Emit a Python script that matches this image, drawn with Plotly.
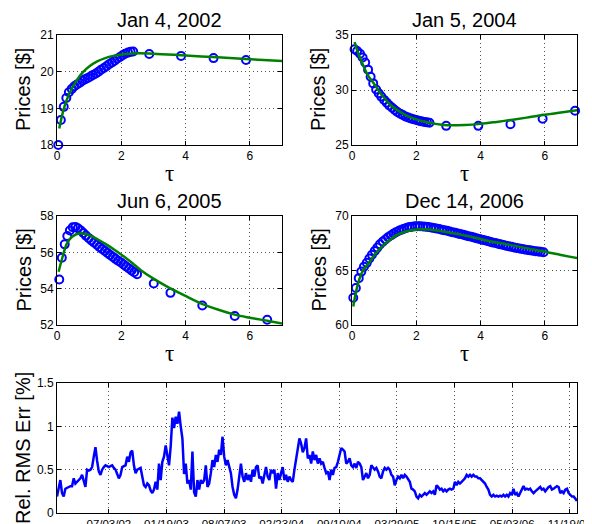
import plotly.graph_objects as go
import pandas as pd

FONT = "Liberation Sans, Arial, Helvetica, sans-serif"
SERIF = "Liberation Serif, Times New Roman, serif"

# ---------------- Data ----------------
titles = ["Jan 4, 2002", "Jan 5, 2004", "Jun 6, 2005", "Dec 14, 2006"]

# Panel 1 (Jan 4, 2002)
p1_tau = [0.04, 0.12, 0.21, 0.29, 0.37, 0.46, 0.54, 0.62, 0.71, 0.79, 0.87, 0.96, 1.04, 1.12, 1.21,
          1.29, 1.37, 1.46, 1.54, 1.62, 1.71, 1.79, 1.87, 1.96, 2.04, 2.12, 2.21, 2.29, 2.37,
          2.87, 3.86, 4.87, 5.88]
p1_obs = [18.0, 18.68, 19.04, 19.28, 19.44, 19.53, 19.6, 19.65, 19.7, 19.75, 19.79, 19.83, 19.87, 19.91, 19.95,
          20.0, 20.05, 20.1, 20.15, 20.2, 20.25, 20.3, 20.35, 20.4, 20.45, 20.49, 20.52, 20.54, 20.55,
          20.48, 20.43, 20.37, 20.32]
p1_fit_tau = [0.07, 0.2, 0.3, 0.45, 0.6, 0.8, 1.0, 1.25, 1.5, 1.75, 2.0, 2.25, 2.5, 3, 4, 5, 6, 7]
p1_fit = [18.45, 18.95, 19.22, 19.52, 19.75, 19.98, 20.14, 20.28, 20.37, 20.43, 20.47, 20.49, 20.5,
          20.49, 20.44, 20.39, 20.34, 20.29]

# Panel 2 (Jan 5, 2004)
p2_tau = [0.08, 0.16, 0.25, 0.33, 0.41, 0.5, 0.58, 0.66, 0.75, 0.83, 0.91, 1.0, 1.08, 1.16, 1.25, 1.33,
          1.41, 1.5, 1.58, 1.66, 1.75, 1.83, 1.91, 2.0, 2.08, 2.16, 2.25, 2.33, 2.41,
          2.93, 3.93, 4.93, 5.93, 6.94]
p2_obs = [33.7, 33.55, 33.3, 32.95, 32.5, 31.85, 31.2, 30.6, 30.05, 29.7, 29.4, 29.1, 28.85, 28.6, 28.38, 28.18,
          28.0, 27.85, 27.72, 27.6, 27.5, 27.42, 27.34, 27.27, 27.2, 27.15, 27.1, 27.06, 27.03,
          26.74, 26.74, 26.89, 27.38, 28.11]
p2_fit_tau = [0.08, 0.2, 0.36, 0.5, 0.67, 0.85, 1.0, 1.19, 1.45, 1.71, 2.0, 2.23, 2.6, 2.95, 3.5, 4.0,
              4.5, 5.0, 5.5, 6.0, 6.5, 7.0]
p2_fit = [34.36, 33.3, 32.16, 31.3, 30.64, 29.85, 29.3, 28.66, 28.1, 27.65, 27.33, 27.13, 26.92, 26.8,
          26.82, 26.92, 27.1, 27.3, 27.52, 27.75, 27.95, 28.15]

# Panel 3 (Jun 6, 2005)
p3_tau = [0.07, 0.15, 0.24, 0.32, 0.40, 0.49, 0.57, 0.65, 0.74, 0.82, 0.90, 0.99, 1.07, 1.15, 1.24, 1.32,
          1.40, 1.49, 1.57, 1.65, 1.74, 1.82, 1.90, 1.99, 2.07, 2.15, 2.24, 2.32, 2.40, 2.49,
          3.01, 3.53, 4.52, 5.53, 6.54]
p3_obs = [54.5, 55.7, 56.44, 56.9, 57.2, 57.38, 57.4, 57.33, 57.2, 57.06, 56.92, 56.78, 56.66, 56.54, 56.42, 56.3,
          56.19, 56.08, 55.97, 55.86, 55.75, 55.64, 55.54, 55.44, 55.33, 55.22, 55.11, 55.0, 54.9, 54.8,
          54.28, 53.77, 53.07, 52.5, 52.29]
p3_fit_tau = [0.05, 0.16, 0.31, 0.47, 0.73, 1.04, 1.3, 1.57, 1.83, 2.09, 2.35, 2.61, 3.0, 3.44, 4.0,
              4.49, 5.0, 5.53, 6.0, 6.58, 7.0]
p3_fit = [54.93, 55.66, 56.49, 56.86, 57.05, 56.92, 56.68, 56.4, 56.09, 55.76, 55.4, 55.02, 54.55, 54.1,
          53.6, 53.18, 52.85, 52.57, 52.4, 52.22, 52.08]

# Panel 4 (Dec 14, 2006)
p4_tau = [0.04, 0.12, 0.21, 0.29, 0.37, 0.46, 0.54, 0.62, 0.71, 0.79, 0.87, 0.96, 1.04, 1.12, 1.21, 1.29,
          1.37, 1.46, 1.54, 1.62, 1.71, 1.79, 1.87, 1.96, 2.04, 2.12, 2.21, 2.29, 2.37, 2.46, 2.54, 2.62,
          2.71, 2.79, 2.87, 2.96, 3.04, 3.12, 3.21, 3.29, 3.37, 3.46, 3.54, 3.62, 3.71, 3.79, 3.87, 3.96,
          4.04, 4.12, 4.21, 4.29, 4.37, 4.46, 4.54, 4.62, 4.71, 4.79, 4.87, 4.96, 5.04, 5.12, 5.21, 5.29,
          5.37, 5.46, 5.54, 5.62, 5.71, 5.79, 5.87, 5.96]
p4_obs = [62.5, 63.4, 64.3, 64.9, 65.35, 65.7, 66.1, 66.45, 66.8, 67.1, 67.4, 67.65, 67.85, 68.05, 68.22, 68.38,
          68.52, 68.64, 68.75, 68.84, 68.92, 68.98, 69.02, 69.05, 69.06, 69.06, 69.04, 69.02, 68.99, 68.95,
          68.91, 68.86, 68.81, 68.75, 68.7, 68.64, 68.58, 68.52, 68.46, 68.4, 68.34, 68.28, 68.22, 68.15,
          68.09, 68.02, 67.96, 67.9, 67.83, 67.77, 67.7, 67.64, 67.58, 67.52, 67.46, 67.4, 67.34, 67.28,
          67.22, 67.17, 67.12, 67.07, 67.02, 66.97, 66.93, 66.89, 66.85, 66.81, 66.77, 66.74, 66.71, 66.68]
p4_fit_tau = [0.04, 0.15, 0.3, 0.56, 0.75, 0.97, 1.2, 1.39, 1.7, 2.01, 2.42, 2.8, 3.25, 3.8, 4.29, 4.8,
              5.33, 6.05, 6.5, 7.0]
p4_fit = [61.7, 63.36, 64.75, 65.83, 66.6, 67.31, 67.85, 68.24, 68.6, 68.77, 68.77, 68.6, 68.36, 68.03,
          67.69, 67.42, 67.1, 66.7, 66.42, 66.14]

# Relative RMS error [%], 2002-01-04 .. 2006-12-14
rms_start, rms_end = "2002-01-04", "2006-12-14"
rms_err = [
    0.19, 0.30, 0.38, 0.23, 0.19, 0.28, 0.29, 0.30, 0.31, 0.31, 0.40, 0.34, 0.36, 0.38, 0.40, 0.44, 0.38, 0.30,
    0.50, 0.49, 0.50, 0.53, 0.65, 0.76, 0.60, 0.48, 0.44, 0.50, 0.53, 0.55, 0.54, 0.53, 0.54, 0.55, 0.52, 0.50,
    0.45, 0.40, 0.44, 0.53, 0.54, 0.55, 0.65, 0.59, 0.70, 0.72, 0.55, 0.46, 0.50, 0.51, 0.52, 0.42, 0.32, 0.30,
    0.34, 0.32, 0.26, 0.23, 0.27, 0.36, 0.27, 0.57, 0.38, 0.59, 0.65, 0.78, 0.65, 0.55, 0.77, 1.10, 0.98, 1.11,
    1.03, 1.17, 1.00, 0.86, 0.45, 0.57, 0.34, 0.38, 0.27, 0.71, 0.24, 0.19, 0.38, 0.27, 0.38, 0.34, 0.38, 0.55,
    0.30, 0.34, 0.46, 0.61, 0.53, 0.67, 0.59, 0.73, 0.67, 0.88, 0.65, 0.55, 0.61, 0.53, 0.46, 0.30, 0.21, 0.17,
    0.27, 0.42, 0.57, 0.42, 0.36, 0.46, 0.38, 0.44, 0.36, 0.50, 0.42, 0.53, 0.55, 0.40, 0.42, 0.34, 0.46, 0.53,
    0.42, 0.38, 0.50, 0.46, 0.50, 0.28, 0.46, 0.38, 0.46, 0.53, 0.38, 0.44, 0.36, 0.42, 0.38, 0.36, 0.50, 0.63,
    0.77, 0.86, 0.80, 0.70, 0.75, 0.86, 0.63, 0.67, 0.57, 0.71, 0.61, 0.67, 0.57, 0.63, 0.57, 0.59, 0.52, 0.46,
    0.48, 0.38, 0.50, 0.44, 0.52, 0.53, 0.59, 0.67, 0.75, 0.73, 0.71, 0.57, 0.59, 0.63, 0.55, 0.53, 0.57, 0.52,
    0.59, 0.57, 0.53, 0.38, 0.42, 0.46, 0.40, 0.44, 0.55, 0.52, 0.50, 0.52, 0.48, 0.42, 0.40, 0.48, 0.52, 0.50,
    0.52, 0.50, 0.44, 0.42, 0.32, 0.38, 0.42, 0.40, 0.44, 0.40, 0.44, 0.42, 0.38, 0.36, 0.28, 0.27, 0.25, 0.19,
    0.17, 0.21, 0.19, 0.21, 0.23, 0.21, 0.23, 0.25, 0.23, 0.25, 0.21, 0.32, 0.30, 0.27, 0.28, 0.25, 0.27, 0.25,
    0.27, 0.28, 0.27, 0.28, 0.36, 0.32, 0.36, 0.34, 0.36, 0.38, 0.40, 0.44, 0.42, 0.44, 0.42, 0.44, 0.42, 0.42,
    0.40, 0.40, 0.38, 0.36, 0.34, 0.30, 0.27, 0.21, 0.19, 0.21, 0.19, 0.20, 0.19, 0.20, 0.19, 0.21, 0.19, 0.21,
    0.19, 0.23, 0.21, 0.28, 0.21, 0.23, 0.19, 0.23, 0.27, 0.31, 0.27, 0.28, 0.27, 0.28, 0.25, 0.23, 0.25, 0.27,
    0.28, 0.30, 0.27, 0.28, 0.25, 0.28, 0.30, 0.31, 0.27, 0.28, 0.30, 0.31, 0.30, 0.23, 0.25, 0.23, 0.27, 0.28,
    0.23, 0.21, 0.19, 0.19, 0.17, 0.14,
]
date_ticks = ["2002-07-03", "2003-01-19", "2003-08-07", "2004-02-23", "2004-09-10",
              "2005-03-29", "2005-10-15", "2006-05-03", "2006-11-19"]
date_labels = ["07/03/02", "01/19/03", "08/07/03", "02/23/04", "09/10/04",
               "03/29/05", "10/15/05", "05/03/06", "11/19/06"]

y_ranges = [[18, 21], [25, 35], [52, 58], [60, 70]]
y_ticks = [[18, 19, 20, 21], [25, 30, 35], [52, 54, 56, 58], [60, 65, 70]]

# ---------------- Figure ----------------
W, H = 592, 524
OFF = 8  # page body margin


def px_x(p):
    return (p - OFF) / W


def px_y(p):
    return 1 - (p - OFF) / H


col_x = [(57, 282), (352, 577)]
row_y = [(35, 145), (216, 325)]

fig = go.Figure()
panels = [(p1_tau, p1_obs, p1_fit_tau, p1_fit), (p2_tau, p2_obs, p2_fit_tau, p2_fit),
          (p3_tau, p3_obs, p3_fit_tau, p3_fit), (p4_tau, p4_obs, p4_fit_tau, p4_fit)]

axis_common = dict(showline=True, linecolor="black", linewidth=1, mirror="ticks",
                   ticks="inside", ticklen=4, tickcolor="black",
                   showgrid=True, gridcolor="#555555", griddash="1px,3px", gridwidth=1,
                   zeroline=False, automargin=False,
                   tickfont=dict(family=FONT, size=12, color="black"))

layout = dict(width=W, height=H, margin=dict(l=0, r=0, t=0, b=0),
              paper_bgcolor="white", plot_bgcolor="white", showlegend=False)
annotations = []

for i, (tt, obs, ft, fv) in enumerate(panels):
    n = i + 1
    r, c = divmod(i, 2)
    xs = "x" if n == 1 else f"x{n}"
    ys = "y" if n == 1 else f"y{n}"
    fig.add_trace(go.Scatter(x=tt, y=obs, mode="markers", cliponaxis=False,
                             marker=dict(symbol="circle-open", size=8, color="rgb(0,0,255)",
                                         line=dict(width=2, color="rgb(0,0,255)")),
                             xaxis=xs, yaxis=ys))
    fig.add_trace(go.Scatter(x=ft, y=fv, mode="lines", line=dict(color="rgb(0,128,0)", width=2.5, shape="spline"),
                             xaxis=xs, yaxis=ys))
    x0, x1 = col_x[c]
    y0, y1 = row_y[r]
    layout["xaxis" if n == 1 else f"xaxis{n}"] = dict(axis_common, domain=[px_x(x0), px_x(x1)],
                                                       anchor=ys, range=[0, 7], tickvals=[0, 2, 4, 6])
    layout["yaxis" if n == 1 else f"yaxis{n}"] = dict(axis_common, domain=[px_y(y1), px_y(y0)],
                                                       anchor=xs, range=y_ranges[i], tickvals=y_ticks[i])
    cx = px_x((x0 + x1) / 2)
    annotations.append(dict(text=titles[i], x=cx, y=px_y(y0), xref="paper", yref="paper",
                            xanchor="center", yanchor="bottom", yshift=2, showarrow=False,
                            font=dict(family=FONT, size=20, color="black")))
    annotations.append(dict(text="τ", x=cx, y=px_y(y1 + 28), xref="paper", yref="paper",
                            xanchor="center", yanchor="middle", showarrow=False,
                            font=dict(family=SERIF, size=23, color="black")))
    annotations.append(dict(text="Prices [$]", x=px_x(x0 - 34), y=px_y((y0 + y1) / 2), xref="paper", yref="paper",
                            xanchor="center", yanchor="middle", textangle=-90, showarrow=False,
                            font=dict(family=FONT, size=20, color="black")))

dates = pd.date_range(rms_start, rms_end, periods=len(rms_err))
fig.add_trace(go.Scatter(x=dates, y=rms_err, mode="lines", line=dict(color="rgb(0,0,255)", width=2.5),
                         xaxis="x5", yaxis="y5"))
layout["xaxis5"] = dict(axis_common, domain=[px_x(57), px_x(577)], anchor="y5",
                        range=[rms_start, rms_end], tickvals=date_ticks, ticktext=date_labels,
                        tickfont=dict(family=FONT, size=11.5, color="black"))
layout["yaxis5"] = dict(axis_common, domain=[px_y(513), px_y(383)], anchor="x5",
                        range=[0, 1.5], tickvals=[0, 0.5, 1, 1.5])
annotations.append(dict(text="Rel. RMS Err [%]", x=px_x(23), y=px_y(448), xref="paper", yref="paper",
                        xanchor="center", yanchor="middle", textangle=-90, showarrow=False,
                        font=dict(family=FONT, size=20, color="black")))
layout["annotations"] = annotations
fig.update_layout(**layout)
fig.write_html("out.html")
